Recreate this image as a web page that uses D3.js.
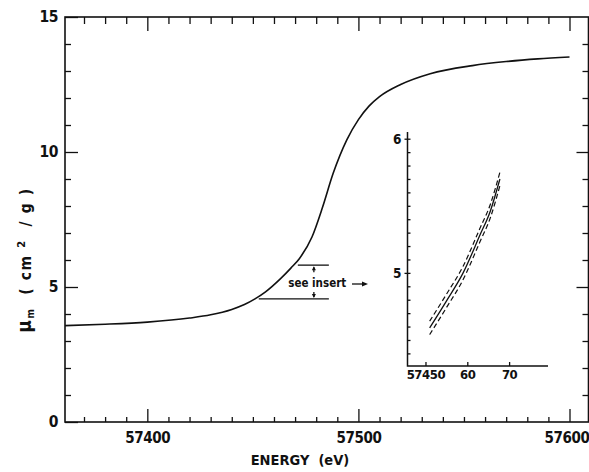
<!DOCTYPE html>
<html>
<head>
<meta charset="utf-8">
<script src="https://cdn.jsdelivr.net/npm/d3@7"></script>
<style>
  body { margin: 0; background: #fff; }
  svg text { font-family: "Liberation Sans Narrow", "DejaVu Sans Condensed", "Roboto Condensed", sans-serif; font-weight: bold; fill: #111; }
</style>
</head>
<body>
<svg id="chart" width="589" height="472"></svg>
<script>
// main curve: energy (eV) vs mass absorption coefficient (cm^2/g)
const energy = [57361, 57380, 57400, 57420, 57430, 57440, 57446, 57451, 57456, 57463, 57468, 57472,
  57478, 57483, 57488, 57494.5, 57500, 57505, 57510, 57520, 57534, 57554, 57570, 57585, 57600];
const mu = [3.57, 3.62, 3.70, 3.85, 3.97, 4.17, 4.35, 4.56, 4.82, 5.30, 5.70, 6.05,
  6.85, 7.95, 9.2, 10.45, 11.2, 11.7, 12.05, 12.5, 12.9, 13.2, 13.35, 13.45, 13.52];

// insert: zoom of the 57450-57470 region, with error band
const insetEnergy = [57451, 57455, 57459, 57463, 57465.5, 57467.8];
const insetMu = [4.59, 4.79, 5.0, 5.28, 5.46, 5.70];
const insetBand = 0.05;

const xTicks = [57400, 57500, 57600];
const yTicks = [0, 5, 10, 15];
const insetXTicks = [57450, 57460, 57470];
const insetXLabels = ['57450', '60', '70'];
const insetYTicks = [5, 6];

// "see insert" markers (value levels)
const markLow = 4.56, markHigh = 5.81;

const svg = d3.select('#chart');
const ink = '#111';

const x = d3.scaleLinear().domain([57361, 57609]).range([65, 588.5]);
const y = d3.scaleLinear().domain([0, 15]).range([422, 17]);

const tidy = (g) => {
  g.select('.domain').remove();
  g.selectAll('line').attr('stroke', ink).attr('stroke-width', 1.3);
};

// ticks, all pointing inward
const minorX = d3.range(57370, 57601, 10).filter((d) => !xTicks.includes(d));
const minorY = d3.range(1, 15).filter((d) => !yTicks.includes(d));

svg.append('g').attr('transform', 'translate(0,422)')
  .call(d3.axisBottom(x).tickValues(minorX).tickSize(-5).tickFormat('')).call(tidy);
svg.append('g').attr('transform', 'translate(0,422)')
  .call(d3.axisBottom(x).tickValues(xTicks).tickSize(-13).tickPadding(10).tickFormat(d3.format('d')))
  .call(tidy)
  .selectAll('text').attr('font-size', 15).attr('letter-spacing', -0.4).attr('fill', ink)
  .attr('dx', (d, i, n) => (i === n.length - 1 ? -3 : 0));

svg.append('g').attr('transform', 'translate(0,17)')
  .call(d3.axisTop(x).tickValues(minorX).tickSize(-7).tickFormat('')).call(tidy);
svg.append('g').attr('transform', 'translate(0,17)')
  .call(d3.axisTop(x).tickValues(xTicks).tickSize(-14).tickFormat('')).call(tidy);

svg.append('g').attr('transform', 'translate(65,0)')
  .call(d3.axisLeft(y).tickValues(minorY).tickSize(-6).tickFormat('')).call(tidy);
svg.append('g').attr('transform', 'translate(65,0)')
  .call(d3.axisLeft(y).tickValues(yTicks).tickSize(-13).tickPadding(7).tickFormat(d3.format('d')))
  .call(tidy)
  .selectAll('text').attr('font-size', 15.5).attr('letter-spacing', -0.5).attr('fill', ink);

svg.append('g').attr('transform', 'translate(588.5,0)')
  .call(d3.axisRight(y).tickValues(minorY).tickSize(-6).tickFormat('')).call(tidy);
svg.append('g').attr('transform', 'translate(588.5,0)')
  .call(d3.axisRight(y).tickValues([5, 10]).tickSize(-12).tickFormat('')).call(tidy);

// frame
svg.append('rect')
  .attr('x', x.range()[0]).attr('y', y.range()[1])
  .attr('width', x.range()[1] - x.range()[0]).attr('height', y.range()[0] - y.range()[1])
  .attr('fill', 'none').attr('stroke', ink).attr('stroke-width', 1.6);

// main curve
const line = d3.line().x((d) => x(d[0])).y((d) => y(d[1])).curve(d3.curveMonotoneX);
svg.append('path')
  .datum(d3.zip(energy, mu))
  .attr('d', line)
  .attr('fill', 'none').attr('stroke', ink).attr('stroke-width', 1.6);

// axis titles
svg.append('text')
  .attr('x', 300).attr('y', 465)
  .attr('text-anchor', 'middle').attr('font-size', 14.5)
  .style('white-space', 'pre')
  .text('ENERGY  (eV)');

const yLab = svg.append('text')
  .attr('transform', 'translate(31,260) rotate(-90)')
  .attr('text-anchor', 'middle').attr('font-size', 15.5).attr('letter-spacing', 1.6)
  .style('white-space', 'pre');
yLab.append('tspan').attr('font-size', 19).text('\u03bc');
yLab.append('tspan').attr('font-size', 10).attr('dy', 3).text('m');
yLab.append('tspan').attr('dy', -3).text('  ( cm ');
yLab.append('tspan').attr('font-size', 11).attr('dy', -6).text('2');
yLab.append('tspan').attr('dy', 6).text('  / g )');

// "see insert" annotation
const ann = svg.append('g').attr('stroke', ink).attr('stroke-width', 1.3);
ann.append('line')
  .attr('x1', x(57452.8)).attr('x2', x(57486)).attr('y1', y(markLow)).attr('y2', y(markLow));
ann.append('line')
  .attr('x1', x(57471.3)).attr('x2', x(57486)).attr('y1', y(markHigh)).attr('y2', y(markHigh));
const ax = x(57478.9);
ann.append('line').attr('x1', ax).attr('x2', ax).attr('y1', y(markHigh) + 2).attr('y2', y(markHigh) + 7);
ann.append('path').attr('fill', ink).attr('stroke', 'none')
  .attr('d', `M${ax},${y(markHigh) + 1}l-2,4h4z`);
ann.append('line').attr('x1', ax).attr('x2', ax).attr('y1', y(markLow) - 2).attr('y2', y(markLow) - 7);
ann.append('path').attr('fill', ink).attr('stroke', 'none')
  .attr('d', `M${ax},${y(markLow) - 1}l-2,-4h4z`);
svg.append('text')
  .attr('x', x(57480.5)).attr('y', 287)
  .attr('text-anchor', 'middle').attr('font-size', 11.5)
  .text('see insert');
ann.append('line').attr('x1', 352).attr('x2', 364).attr('y1', 284).attr('y2', 284);
ann.append('path').attr('fill', ink).attr('stroke', 'none').attr('d', 'M368,284l-6,-2.5v5z');

// insert
const ix = d3.scaleLinear().domain([57445.7, 57479.3]).range([407.5, 548]);
const iy = d3.scaleLinear().domain([4.306, 6.05]).range([366, 132]);

svg.append('g').attr('transform', 'translate(407.5,0)')
  .call(d3.axisLeft(iy).tickValues(d3.range(4.4, 6.01, 0.1)).tickSize(-3).tickFormat('')).call(tidy);
svg.append('g').attr('transform', 'translate(407.5,0)')
  .call(d3.axisLeft(iy).tickValues(insetYTicks).tickSize(3).tickPadding(3).tickFormat(d3.format('d')))
  .call(tidy)
  .selectAll('text').attr('font-size', 13.5).attr('fill', ink);
svg.append('g').attr('transform', 'translate(0,366)')
  .call(d3.axisBottom(ix).tickValues(insetXTicks).tickSize(-4).tickPadding(4)
    .tickFormat((d, i) => insetXLabels[i]))
  .call(tidy)
  .selectAll('text').attr('font-size', 13).attr('letter-spacing', -0.4).attr('fill', ink);

svg.append('path')
  .attr('d', `M${ix.range()[0]},${iy.range()[1]}V${iy.range()[0]}H${ix.range()[1]}`)
  .attr('fill', 'none').attr('stroke', ink).attr('stroke-width', 1.5);

const iline = d3.line().x((d) => ix(d[0])).y((d) => iy(d[1])).curve(d3.curveMonotoneX);
const insetPts = d3.zip(insetEnergy, insetMu);
svg.append('path').datum(insetPts).attr('d', iline)
  .attr('fill', 'none').attr('stroke', ink).attr('stroke-width', 1.3);
[insetBand, -insetBand].forEach((b) => {
  svg.append('path').datum(insetPts.map((p) => [p[0], p[1] + b])).attr('d', iline)
    .attr('fill', 'none').attr('stroke', ink).attr('stroke-width', 1.2)
    .attr('stroke-dasharray', '5,3');
});
</script>
</body>
</html>
